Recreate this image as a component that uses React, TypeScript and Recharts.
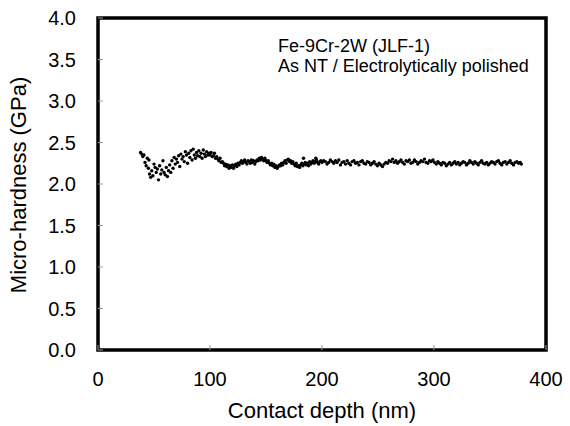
import { ScatterChart, Scatter, XAxis, YAxis, ReferenceArea } from "recharts";

// depth (nm), hardness (GPa)
const earlyPoints: [number, number][] = [
  [38, 2.38], [39, 2.36], [40, 2.33], [41, 2.35], [42, 2.26], [43, 2.22], [44, 2.31], [45, 2.19],
  [45.5, 2.29], [46, 2.12], [47, 2.08], [48, 2.16], [49, 2.1], [50, 2.24], [51, 2.2], [52, 2.14],
  [53, 2.18], [54, 2.05], [55, 2.22], [56, 2.12], [57, 2.17], [58, 2.28], [59, 2.14], [60, 2.11],
  [61, 2.2], [62, 2.09], [63, 2.16], [64, 2.23], [65, 2.14], [66, 2.28], [67, 2.19], [68, 2.32],
  [69, 2.24], [70, 2.3], [71, 2.26], [72, 2.34], [73, 2.21], [74, 2.36], [75, 2.3], [76, 2.33],
  [77, 2.27], [78, 2.39], [79, 2.35], [80, 2.25], [81, 2.37], [82, 2.32], [83, 2.4], [84, 2.29],
  [85, 2.42], [86, 2.35], [87, 2.31], [88, 2.38], [89, 2.34], [90, 2.4], [91, 2.33], [92, 2.37],
  [93, 2.31], [94, 2.41], [95, 2.36], [96, 2.33], [97, 2.39], [98, 2.35],
];

const midPoints: [number, number][] = [
  [99, 2.37], [100, 2.35], [101, 2.38], [102, 2.33], [103, 2.34], [104, 2.37], [105, 2.31], [106, 2.33],
  [107, 2.3], [108, 2.28], [109, 2.31], [110, 2.26], [111, 2.27], [112, 2.25], [113, 2.22], [114, 2.24],
  [115, 2.21], [116, 2.23], [117, 2.19], [118, 2.22], [119, 2.2], [120, 2.23], [121, 2.19], [122, 2.22],
  [123, 2.24], [124, 2.21], [125, 2.25], [126, 2.23], [127, 2.26], [128, 2.28], [129, 2.25], [130, 2.27],
  [131, 2.29], [132, 2.26], [133, 2.24], [134, 2.28], [135, 2.27], [136, 2.25], [137, 2.29], [138, 2.26],
  [139, 2.28], [140, 2.24], [141, 2.27], [142, 2.29], [143, 2.28], [144, 2.31], [145, 2.29], [146, 2.32],
  [147, 2.3], [148, 2.28], [149, 2.31], [150, 2.28], [151, 2.26], [152, 2.28], [153, 2.25], [154, 2.23],
  [155, 2.25], [156, 2.22], [157, 2.24], [158, 2.2], [159, 2.22], [160, 2.19], [161, 2.21], [162, 2.23],
  [163, 2.22], [164, 2.25], [165, 2.23], [166, 2.26], [167, 2.28], [168, 2.25], [169, 2.29], [170, 2.3],
  [171, 2.27], [172, 2.28], [173, 2.25], [174, 2.27], [175, 2.24], [176, 2.22], [177, 2.25], [178, 2.21],
  [179, 2.22], [180, 2.2], [181, 2.23], [182, 2.25], [183, 2.22], [183.5, 2.31], [184, 2.24], [185, 2.26],
  [186, 2.23], [187, 2.25], [188, 2.22], [189, 2.27], [190, 2.24], [191, 2.26], [192, 2.28], [193, 2.25],
  [194, 2.27], [194.5, 2.31], [195, 2.29], [196, 2.26], [197, 2.24], [198, 2.27], [199, 2.28], [200, 2.26],
];

const latePoints: [number, number][] = [
  [201.5, 2.28], [203, 2.27], [204.5, 2.24], [206, 2.26], [207.5, 2.29], [209, 2.27], [210.5, 2.25], [212, 2.28],
  [213.5, 2.26], [215, 2.29], [216.5, 2.23], [218, 2.26], [219.5, 2.27], [221, 2.24], [222.5, 2.28], [224, 2.25],
  [225.5, 2.23], [227, 2.27], [228.5, 2.28], [230, 2.25], [231.5, 2.26], [233, 2.23], [234.5, 2.27], [236, 2.28],
  [237.5, 2.25], [239, 2.24], [240.5, 2.27], [242, 2.26], [243.5, 2.23], [245, 2.25], [246.5, 2.27], [248, 2.24],
  [249.5, 2.22], [251, 2.25], [252.5, 2.23], [254, 2.21], [255.5, 2.24], [257, 2.26], [258.5, 2.25], [260, 2.28],
  [261.5, 2.27], [263, 2.3], [264.5, 2.26], [266, 2.28], [267.5, 2.25], [269, 2.27], [270.5, 2.29], [272, 2.26],
  [273.5, 2.24], [275, 2.28], [276.5, 2.27], [278, 2.29], [279.5, 2.25], [281, 2.26], [282.5, 2.29], [284, 2.27],
  [285.5, 2.24], [287, 2.26], [288.5, 2.28], [290, 2.27], [291.5, 2.3], [293, 2.26], [294.5, 2.25], [296, 2.28],
  [297.5, 2.27], [299, 2.29], [300.5, 2.26], [302, 2.24], [303.5, 2.27], [305, 2.25], [306.5, 2.23], [308, 2.26],
  [309.5, 2.25], [311, 2.22], [312.5, 2.24], [314, 2.26], [315.5, 2.23], [317, 2.25], [318.5, 2.27], [320, 2.24],
  [321.5, 2.26], [323, 2.23], [324.5, 2.25], [326, 2.27], [327.5, 2.26], [329, 2.23], [330.5, 2.25], [332, 2.28],
  [333.5, 2.26], [335, 2.24], [336.5, 2.27], [338, 2.25], [339.5, 2.23], [341, 2.26], [342.5, 2.28], [344, 2.25],
  [345.5, 2.24], [347, 2.26], [348.5, 2.23], [350, 2.25], [351.5, 2.27], [353, 2.26], [354.5, 2.24], [356, 2.27],
  [357.5, 2.28], [359, 2.25], [360.5, 2.23], [362, 2.26], [363.5, 2.27], [365, 2.24], [366.5, 2.26], [368, 2.28],
  [369.5, 2.25], [371, 2.23], [372.5, 2.26], [374, 2.27], [375.5, 2.25], [377, 2.26], [378, 2.24],
];

const xTicks = [0, 100, 200, 300, 400];
const yTicks = [0, 0.5, 1, 1.5, 2, 2.5, 3, 3.5, 4];

const FONT = '"Liberation Sans", Arial, sans-serif';

const data = [...earlyPoints, ...midPoints, ...latePoints].map(([depth, hardness]) => ({ depth, hardness }));

const Dot = (props: any) => <circle cx={props.cx} cy={props.cy} r={1.7} fill="#000" />;

export default function App() {
  return (
    <div style={{ position: "absolute", left: 0, top: 0, width: 570, height: 426, background: "#fff", fontFamily: FONT }}>
      <ScatterChart width={570} height={426} margin={{ top: 18, right: 24, bottom: 0, left: 0 }}>
        <XAxis
          type="number"
          dataKey="depth"
          domain={[0, 400]}
          ticks={xTicks}
          height={76}
          axisLine={false}
          tickSize={-5}
          tickMargin={27}
          tickLine={{ stroke: "#999", strokeWidth: 1 }}
          tick={{ fill: "#000", fontSize: 20, fontFamily: FONT }}
        />
        <YAxis
          type="number"
          dataKey="hardness"
          domain={[0, 4]}
          ticks={yTicks}
          width={98}
          axisLine={false}
          tickSize={-5}
          tickMargin={27}
          tickLine={{ stroke: "#999", strokeWidth: 1 }}
          tickFormatter={(v: number) => v.toFixed(1)}
          tick={{ fill: "#000", fontSize: 20, fontFamily: FONT }}
        />
        <ReferenceArea x1={0} x2={400} y1={0} y2={4} fill="none" stroke="#000" strokeWidth={3.5} ifOverflow="visible" />
        <Scatter data={data} shape={Dot} isAnimationActive={false} />
      </ScatterChart>
      <svg width={570} height={426} style={{ position: "absolute", left: 0, top: 0, pointerEvents: "none" }}>
        <text x={18} y={185} transform="rotate(-90 18 185)" textAnchor="middle" dominantBaseline="central" fontSize={22} fontFamily={FONT} fill="#000">
          Micro-hardness (GPa)
        </text>
        <text x={322} y={418} textAnchor="middle" fontSize={22} fontFamily={FONT} fill="#000">
          Contact depth (nm)
        </text>
        <text x={278} y={52} fontSize={18} fontFamily={FONT} fill="#000">
          Fe-9Cr-2W (JLF-1)
        </text>
        <text x={278} y={72} fontSize={18} fontFamily={FONT} fill="#000">
          As NT / Electrolytically polished
        </text>
      </svg>
    </div>
  );
}
